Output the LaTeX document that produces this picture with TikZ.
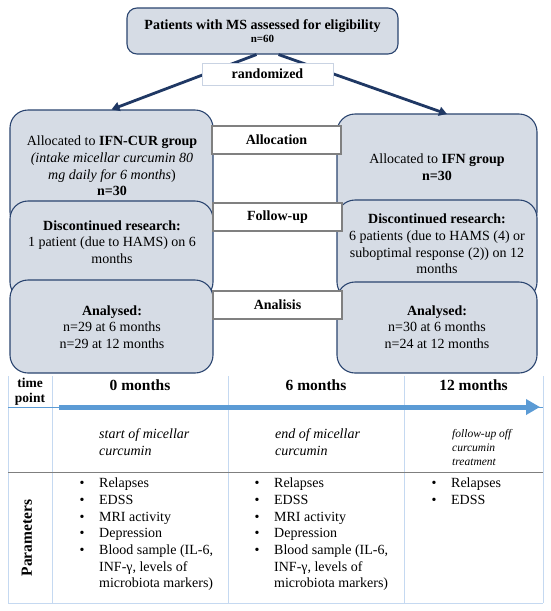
\documentclass[tikz,border=0pt]{standalone}
\usepackage{fontspec}
\setmainfont{Liberation Serif}
\usetikzlibrary{arrows.meta}
\definecolor{boxfill}{HTML}{D6DCE5}
\definecolor{boxdraw}{HTML}{2B4570}
\definecolor{navy}{HTML}{1F3864}
\definecolor{labgray}{HTML}{808080}
\definecolor{randdraw}{HTML}{C9D3E3}
\definecolor{tline}{HTML}{C5D9F1}
\definecolor{tblue}{HTML}{5B9BD5}
\definecolor{tgray}{HTML}{7F7F7F}
\newcommand{\bl}[1]{\makebox[19.5pt][l]{\textbullet}#1}
\newcommand{\ind}{\hspace*{19.5pt}}
\tikzset{
  gbox/.style={draw=boxdraw, line width=1.1pt, fill=boxfill, rounded corners=18pt, inner sep=0pt},
  topbox/.style={draw=boxdraw, line width=1.1pt, fill=boxfill, rounded corners=10pt, inner sep=0pt},
  randbox/.style={draw=randdraw, line width=1pt, fill=white, inner sep=0pt},
  labbox/.style={draw=labgray, line width=2.6pt, fill=white, inner sep=0pt, minimum width=129pt, minimum height=28pt, font=\fontsize{14}{16}\selectfont\bfseries},
  txt/.style={align=center, inner sep=0pt, font=\fontsize{14}{16.7}\selectfont},
  arr/.style={draw=navy, line width=2.8pt, -{Triangle[length=8pt,width=9pt]}},
  tl/.style={draw=tblue, line width=5pt, -{Triangle[length=14pt,width=15pt]}},
  hdr/.style={inner sep=0pt, font=\fontsize{15.5}{17}\selectfont\bfseries},
  itx/.style={anchor=north west, align=left, inner sep=0pt, font=\fontsize{14}{17}\selectfont\itshape},
  lst/.style={anchor=north west, align=left, inner sep=0pt, font=\fontsize{14}{16.67}\selectfont},
  vline/.style={draw=tline, line width=1pt}
}
\begin{document}
\begin{tikzpicture}[x=1pt,y=-1pt]
\useasboundingbox[fill=white] (0,0) rectangle (550,611);

% top box
\node[topbox, minimum width=271pt, minimum height=46pt] (top) at (262.5,31) {};
\node[inner sep=0pt, align=center, font=\fontsize{14}{14}\selectfont\bfseries] (toptxt) at (262.5,31)
  {Patients with MS assessed for eligibility\\[-1pt]{\fontsize{11}{12}\selectfont n=60}};

% left column boxes
\node[gbox, minimum width=203pt, minimum height=120pt] (lalloc) at (111.5,170) {};
\node[gbox, minimum width=203pt, minimum height=99pt] (lfol) at (111.5,250.5) {};
\node[gbox, minimum width=203pt, minimum height=93pt] (lana) at (111.5,326.5) {};
% right column boxes
\node[gbox, minimum width=200pt, minimum height=116pt] (ralloc) at (437,172) {};
\node[gbox, minimum width=200pt, minimum height=100pt] (rfol) at (437,250) {};
\node[gbox, minimum width=200pt, minimum height=91pt] (rana) at (437,327.5) {};

% arrows
\coordinate (rtip) at (447,114);
\draw[arr] ([xshift=-6pt]top.south) -- (lalloc.north);
\draw[arr] ([xshift=16pt]top.south) -- (rtip);

% randomized
\node[randbox, minimum width=131pt, minimum height=22pt, font=\fontsize{14}{16}\selectfont\bfseries] (rand) at (267.5,74) {randomized};

% texts in boxes
\node[txt] (lalloct) at (112,166) {Allocated to \textbf{IFN-CUR group}\\ \textit{(intake micellar curcumin 80}\\ \textit{mg daily for 6 months})\\ \textbf{n=30}};
\node[txt] (ralloct) at (437,167) {Allocated to \textbf{IFN group}\\ \textbf{n=30}};
\node[txt] (lfolt) at (112,242) {\textbf{Discontinued research:}\\ 1 patient (due to HAMS) on 6\\ months};
\node[txt] (rfolt) at (437,244) {\textbf{Discontinued research:}\\ 6 patients (due to HAMS (4) or\\ suboptimal response (2)) on 12\\ months};
\node[txt] (lanat) at (112,327) {\textbf{Analysed:}\\ n=29 at 6 months\\ n=29 at 12 months};
\node[txt] (ranat) at (437,327) {\textbf{Analysed:}\\ n=30 at 6 months\\ n=24 at 12 months};

% label boxes
\node[labbox] (lab1) at (276.5,140) {Allocation};
\node[labbox] (lab2) at (277.5,217) {Follow-up};
\node[labbox] (lab3) at (277.5,305) {Analisis};

% table
\foreach \x/\n in {8/a,52/b,228/c,404/d,543/e}{
  \coordinate (vt\n) at (\x,376);
  \coordinate (vb\n) at (\x,603);
  \draw[vline] (vt\n) -- (vb\n);
}
\coordinate (h1l) at (8,407); \coordinate (h1r) at (543,407);
\coordinate (h2l) at (8,472); \coordinate (h2r) at (543,472);
\draw[draw=tblue, line width=1pt] (h1l) -- (h1r);
\draw[draw=tgray, line width=0.9pt] (h2l) -- (h2r);
\draw[vline] (vba) -- (vbe);
\coordinate (ts) at (59,407); \coordinate (te) at (540,407);
\draw[tl] (ts) -- (te);

\node[inner sep=0pt, align=center, font=\fontsize{13.5}{15}\selectfont\bfseries] (tp) at (30,391.5) {time\\point};
\node[hdr] (h0) at (140,385) {0 months};
\node[hdr] (h6) at (316,385) {6 months};
\node[hdr] (h12) at (473.5,385) {12 months};

\node[itx] (i1) at (99,428) {start of micellar\\curcumin};
\node[itx] (i2) at (275,428) {end of micellar\\curcumin};
\node[itx, font=\fontsize{11.5}{14}\selectfont\itshape] (i3) at (452,429) {follow-up off\\curcumin\\treatment};

\node[inner sep=0pt, rotate=90, font=\fontsize{15.5}{17}\selectfont\bfseries] (par) at (27,538) {Parameters};

\node[lst] (l1) at (79.5,478) {\bl{Relapses}\\ \bl{EDSS}\\ \bl{MRI activity}\\ \bl{Depression}\\ \bl{Blood sample (IL-6,}\\ \ind INF-γ, levels of\\ \ind microbiota markers)};
\node[lst] (l2) at (254.5,478) {\bl{Relapses}\\ \bl{EDSS}\\ \bl{MRI activity}\\ \bl{Depression}\\ \bl{Blood sample (IL-6,}\\ \ind INF-γ, levels of\\ \ind microbiota markers)};
\node[lst] (l3) at (431.5,478) {\bl{Relapses}\\ \bl{EDSS}};
\end{tikzpicture}
\end{document}
